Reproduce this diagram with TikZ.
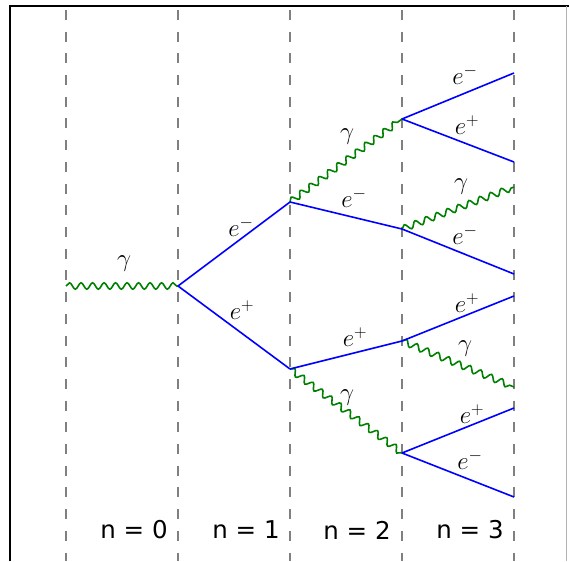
\documentclass[tikz,border=0pt]{standalone}
\usepackage{fontspec}
\newfontfamily\dvs{DejaVu Sans}
\usetikzlibrary{decorations.pathmorphing}
\definecolor{mplgreen}{HTML}{008000}
\tikzset{
  grid line/.style={draw=gray, line width=1.4pt, dash pattern=on 10pt off 11.7pt},
  fermion/.style={draw=blue, line width=1.6pt},
  photon/.style={draw=mplgreen, line width=1.6pt, decorate,
    decoration={snake, segment length=11.5pt, amplitude=3.2pt}},
  plabel/.style={inner sep=0pt, font=\fontsize{25}{30}\selectfont},
  nlabel/.style={inner sep=0pt, font=\dvs\fontsize{24.5}{29}\selectfont},
}
\begin{document}
\begin{tikzpicture}[x=1pt, y=-1pt]
\useasboundingbox (0,0) rectangle (569,561);
% frame
\draw[black, line width=1.5pt] (10,561) -- (10,6) -- (569,6);
\draw[gray!60, line width=0.8pt] (566,6) -- (566,561);
% column guides
\foreach \x/\n in {66/g0,178/g1,290/g2,402/g3,514/g4} {
  \coordinate (\n t) at (\x,10);
  \coordinate (\n b) at (\x,561);
  \draw[grid line] (\n t) -- (\n b);
}
% vertices
\coordinate (s) at (66,286);
\coordinate (a) at (178,286);
\coordinate (b1) at (290,202);
\coordinate (b2) at (290,369);
\coordinate (c1) at (402,119);
\coordinate (c2) at (402,229);
\coordinate (c3) at (402,341);
\coordinate (c4) at (402,453);
\coordinate (d1) at (514,73);
\coordinate (d2) at (514,162);
\coordinate (d3) at (514,187);
\coordinate (d4) at (514,274);
\coordinate (d5) at (514,296);
\coordinate (d6) at (514,387);
\coordinate (d7) at (514,408);
\coordinate (d8) at (514,497);
% photons
\draw[photon] (s) -- (a);
\draw[photon] (b1) -- (c1);
\draw[photon] (b2) -- (c4);
\draw[photon] (c2) -- (d3);
\draw[photon] (c3) -- (d6);
% fermions
\draw[fermion] (a) -- (b1);
\draw[fermion] (a) -- (b2);
\draw[fermion] (b1) -- (c2);
\draw[fermion] (b2) -- (c3);
\draw[fermion] (c1) -- (d1);
\draw[fermion] (c1) -- (d2);
\draw[fermion] (c2) -- (d4);
\draw[fermion] (c3) -- (d5);
\draw[fermion] (c4) -- (d7);
\draw[fermion] (c4) -- (d8);
% particle labels
\node[plabel] (l0) at (124,264) {$\gamma$};
\node[plabel] (l1) at (241,227) {$e^-$};
\node[plabel] (l2) at (242,310) {$e^+$};
\node[plabel] (l3) at (347,137) {$\gamma$};
\node[plabel] (l4) at (354,198) {$e^-$};
\node[plabel] (l5) at (355,337) {$e^+$};
\node[plabel] (l6) at (347,398) {$\gamma$};
\node[plabel] (l7) at (465,75) {$e^-$};
\node[plabel] (l8) at (467,125) {$e^+$};
\node[plabel] (l9) at (461,187) {$\gamma$};
\node[plabel] (l10) at (465,235) {$e^-$};
\node[plabel] (l11) at (467,303) {$e^+$};
\node[plabel] (l12) at (465,349) {$\gamma$};
\node[plabel] (l13) at (472,414) {$e^+$};
\node[plabel] (l14) at (470,460) {$e^-$};
% generation labels
\node[nlabel] (n0) at (134,530) {n = 0};
\node[nlabel] (n1) at (246,530) {n = 1};
\node[nlabel] (n2) at (357,530) {n = 2};
\node[nlabel] (n3) at (470,530) {n = 3};
\end{tikzpicture}
\end{document}
